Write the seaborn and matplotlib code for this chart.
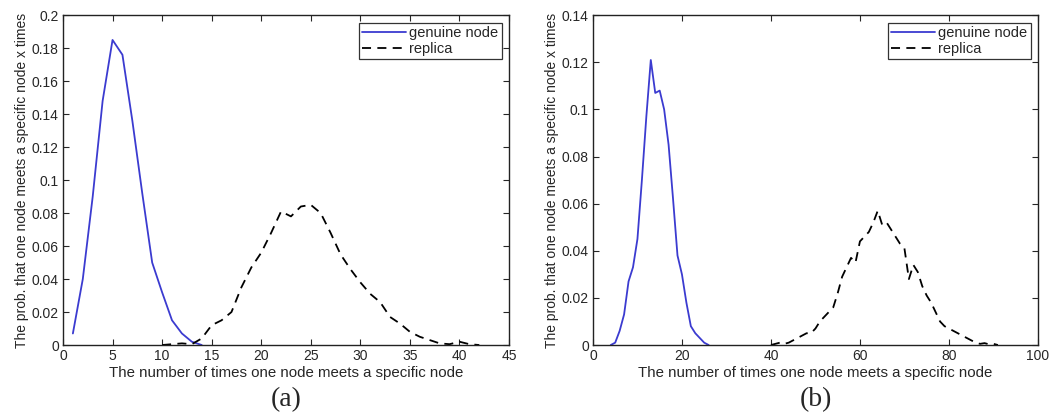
import numpy as np
import pandas as pd
import matplotlib
matplotlib.use("Agg")
import matplotlib.pyplot as plt
import seaborn as sns

# panel (a)
a_genuine_x = list(range(1, 15))
a_genuine_y = [0.007, 0.04, 0.09, 0.148, 0.185, 0.176, 0.136, 0.092, 0.05, 0.032,
               0.015, 0.007, 0.002, 0.0]
a_replica_x = list(range(10, 43))
a_replica_y = [0.0, 0.0005, 0.001, 0.0005, 0.004, 0.012, 0.015, 0.02, 0.035, 0.047,
               0.056, 0.068, 0.081, 0.078, 0.084, 0.085, 0.08, 0.068, 0.055, 0.046,
               0.038, 0.031, 0.026, 0.017, 0.013, 0.008, 0.005, 0.003, 0.001, 0.0005,
               0.002, 0.0005, 0.0]

# panel (b)
b_genuine_x = list(range(4, 27))
b_genuine_y = [0.0, 0.001, 0.006, 0.013, 0.027, 0.033, 0.045, 0.07, 0.097, 0.121,
               0.107, 0.108, 0.1, 0.085, 0.062, 0.038, 0.03, 0.018, 0.008, 0.005,
               0.003, 0.001, 0.0]
b_replica_x = list(range(40, 92))
b_replica_y = [0.0, 0.0005, 0.001, 0.0005, 0.001, 0.002, 0.003, 0.004, 0.005, 0.005,
               0.007, 0.01, 0.012, 0.014, 0.016, 0.022, 0.029, 0.033, 0.037, 0.035,
               0.044, 0.046, 0.048, 0.052, 0.057, 0.051, 0.052, 0.049, 0.046, 0.043,
               0.041, 0.028, 0.034, 0.031, 0.025, 0.021, 0.018, 0.014, 0.01, 0.008,
               0.007, 0.006, 0.005, 0.004, 0.003, 0.002, 0.001, 0.0005, 0.0008, 0.0003,
               0.0005, 0.0]

sns.set_style("ticks")
plt.rcParams["font.family"] = ["Liberation Sans", "DejaVu Sans"]

blue = "#3b3bd0"
xlabel = "The number of times one node meets a specific node"
ylabel = "The prob. that one node meets a specific node x times"


def fmt(v):
    s = ("%.2f" % v).rstrip("0").rstrip(".")
    return s


fig = plt.figure(figsize=(10.53, 4.18), dpi=100)
ax1 = fig.add_axes([0.0598, 0.1746, 0.4236, 0.789])
ax2 = fig.add_axes([0.5631, 0.1746, 0.4226, 0.789])

panels = [
    (ax1, a_genuine_x, a_genuine_y, a_replica_x, a_replica_y, 45, 0.2, 5, "(a)"),
    (ax2, b_genuine_x, b_genuine_y, b_replica_x, b_replica_y, 100, 0.14, 20, "(b)"),
]

for ax, gx, gy, rx, ry, xmax, ymax, xstep, tag in panels:
    sns.lineplot(x=gx, y=gy, ax=ax, color=blue, lw=1.3, label="genuine node")
    sns.lineplot(x=rx, y=ry, ax=ax, color="black", lw=1.3, linestyle=(0, (5, 3.5)),
                 label="replica")
    ax.set_xlim(0, xmax)
    ax.set_ylim(0, ymax)
    ax.set_xticks(np.arange(0, xmax + 0.1, xstep))
    yt = np.arange(0, ymax + 1e-9, 0.02)
    ax.set_yticks(yt)
    ax.set_yticklabels([fmt(v) for v in yt])
    ax.tick_params(direction="in", top=True, right=True, length=4, width=0.8,
                   labelsize=10, pad=3)
    for sp in ax.spines.values():
        sp.set_linewidth(1.0)
        sp.set_color("#222222")
    ax.set_xlabel(xlabel, fontsize=10.8, labelpad=2)
    ax.set_ylabel(ylabel, fontsize=10, labelpad=2)
    leg = ax.legend(loc="upper right", fontsize=10.5, frameon=True, fancybox=False,
                    edgecolor="black", handlelength=3.0, borderpad=0.25,
                    labelspacing=0.1, handletextpad=0.2, borderaxespad=0.5)
    leg.get_frame().set_linewidth(0.9)
    ax.text(0.5, -0.165, tag, transform=ax.transAxes, ha="center", va="center",
            fontsize=20, family=["Liberation Serif", "DejaVu Serif"])

fig.savefig("out.png", dpi=100)
